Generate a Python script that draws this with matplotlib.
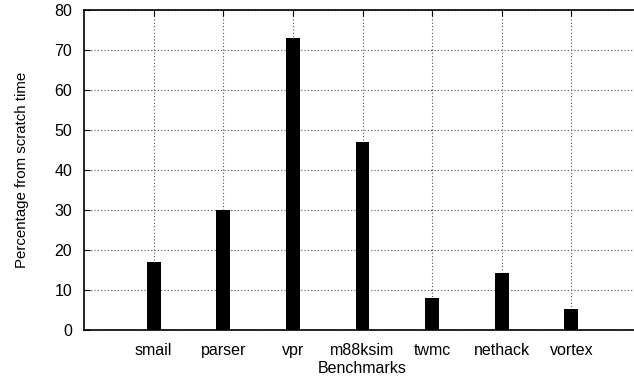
import numpy as np
import matplotlib
matplotlib.use("Agg")
import matplotlib.pyplot as plt

plt.rcParams['font.family'] = ['Liberation Sans', 'DejaVu Sans']

benchmarks = ["smail", "parser", "vpr", "m88ksim", "twmc", "nethack", "vortex"]
percent = [17, 30, 73, 47, 7.8, 14.2, 5.1]

x = np.arange(1, len(benchmarks) + 1)

fig = plt.figure(figsize=(6.34, 3.79), dpi=100)
# right border of the frame falls just outside the picture
ax = fig.add_axes([84/634, 1 - 329.5/379, 557/634, 320/379])

ax.bar(x, percent, width=0.2, color="black", zorder=3)
ax.set_xlim(0, 8)
ax.set_ylim(0, 80)
ax.set_xticks(x)
ax.set_xticklabels(benchmarks, fontsize=11.5)
ax.set_yticks(range(0, 81, 10))
ax.tick_params(axis="y", labelsize=11.5, direction="in", length=4, pad=8.5)
ax.tick_params(axis="x", direction="in", length=0, pad=10)
ax.tick_params(top=True, direction="in", length=4)

ax.grid(True, linestyle=(0, (1, 2)), color="#555555", linewidth=0.8, zorder=0)
for s in ax.spines.values():
    s.set_linewidth(1.2)

ax.set_xlabel("Benchmarks", fontsize=11.5, labelpad=2)
ax.set_ylabel("Percentage from scratch time", fontsize=10.8, labelpad=18)

fig.savefig("out.png", dpi=100)
